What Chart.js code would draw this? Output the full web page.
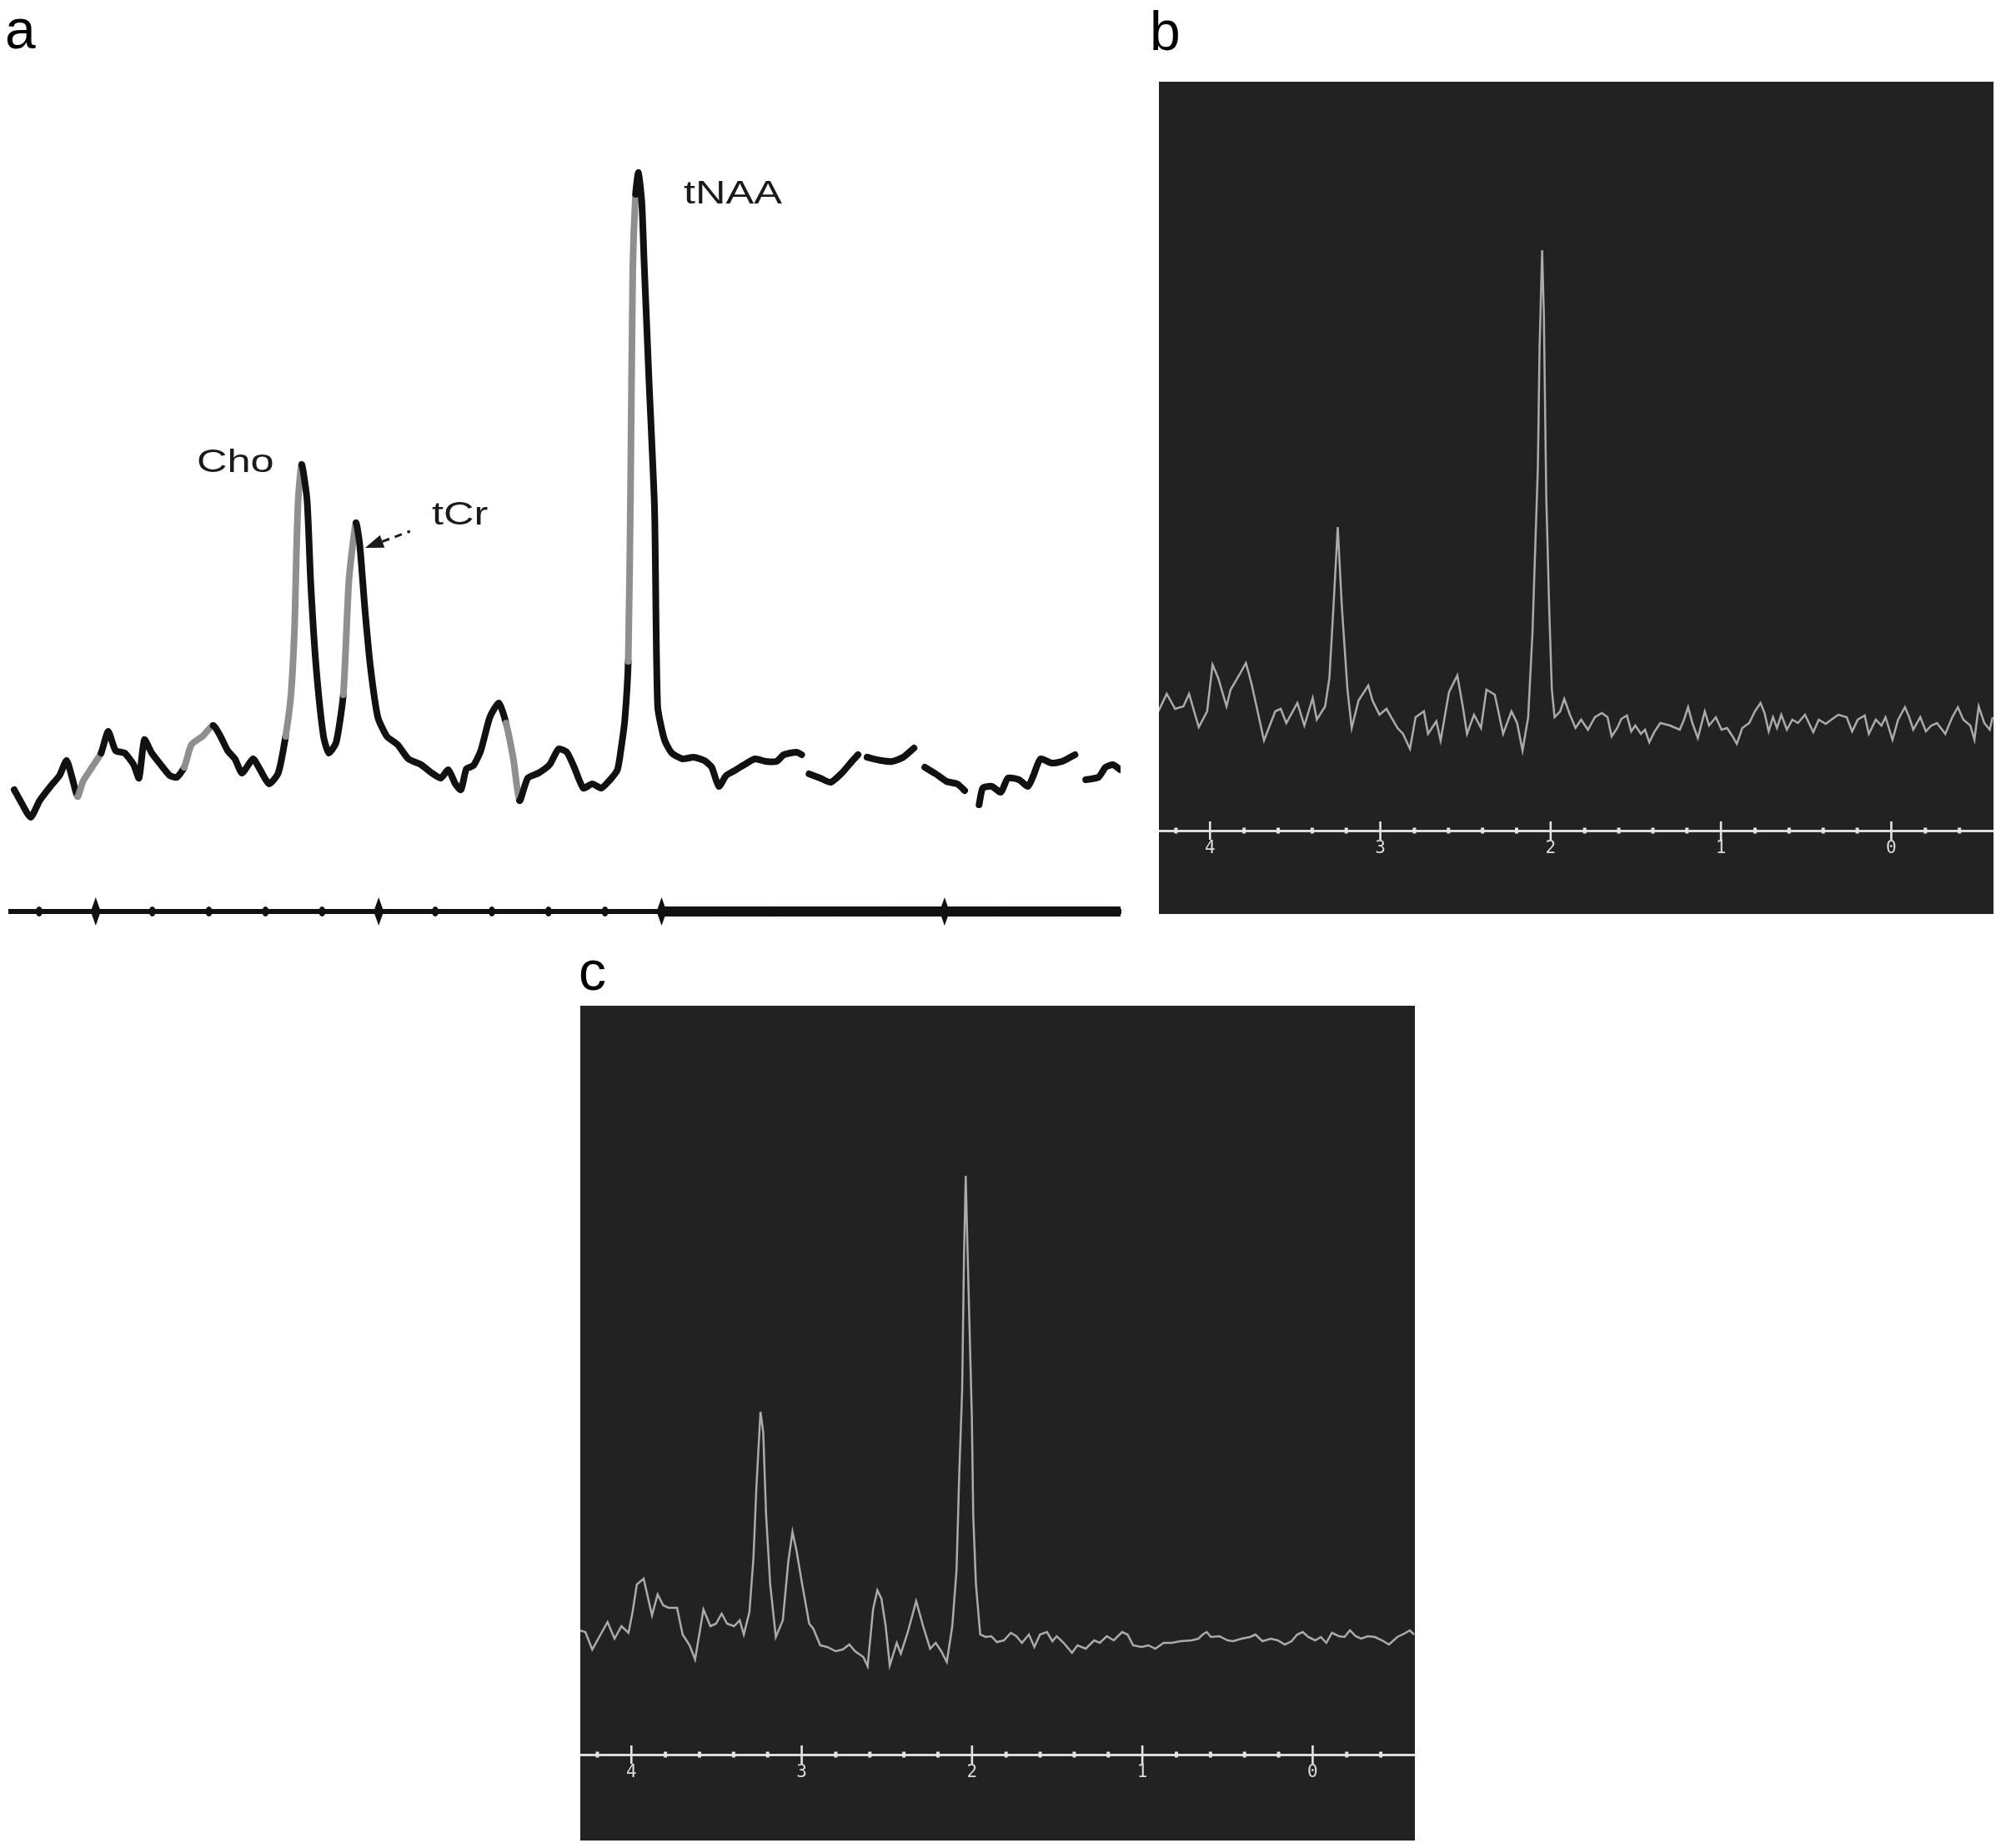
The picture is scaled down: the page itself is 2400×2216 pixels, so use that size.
<!DOCTYPE html>
<html>
<head>
<meta charset="utf-8">
<script src="https://cdn.jsdelivr.net/npm/chart.js@4.4.1/dist/chart.umd.min.js"></script>
<style>
  body { margin: 0; background: #fff; width: 2400px; height: 2216px; position: relative; overflow: hidden; }
  .tag { position: absolute; font-family: "Liberation Sans", Arial, sans-serif; font-size: 66px; line-height: 1; color: #000; }
  canvas { position: absolute; }
  #chartB, #chartC { background: #222; }
</style>
</head>
<body>
<div class="tag" style="left:6px;top:2px">a</div>
<div class="tag" style="left:1379px;top:4px">b</div>
<div class="tag" style="left:694px;top:1131px">c</div>

<canvas id="chartA" width="1360" height="1130" style="left:0;top:0"></canvas>
<canvas id="chartB" width="1001" height="998" style="left:1390px;top:98px"></canvas>
<canvas id="chartC" width="1001" height="1001" style="left:696px;top:1206px"></canvas>

<script>
// ---- data (ppm on x, signal height on y) ----
const ppmTicks = [4, 3, 2, 1, 0];
const ppmTicksA = [4, 3, 2, 1];

// panel a
const ppmA = [4.288, 4.262, 4.230, 4.198, 4.160, 4.128, 4.103, 4.083, 4.064, 4.045, 4.013, 3.981, 3.956, 3.930, 3.898,
  3.866, 3.847, 3.828, 3.802, 3.770, 3.738, 3.713, 3.687, 3.662, 3.623, 3.585, 3.559, 3.534, 3.508, 3.483, 3.444,
  3.419, 3.387, 3.355, 3.329, 3.310, 3.297, 3.291, 3.284, 3.272, 3.253, 3.240, 3.221, 3.195, 3.176, 3.150, 3.125,
  3.106, 3.093, 3.080, 3.067, 3.048, 3.029, 3.003, 2.971, 2.933, 2.895, 2.850, 2.812, 2.780, 2.754, 2.729, 2.709,
  2.690, 2.665, 2.639, 2.607, 2.575, 2.550, 2.524, 2.502, 2.473, 2.435, 2.396, 2.364, 2.335, 2.309, 2.277, 2.245,
  2.213, 2.182, 2.156, 2.143, 2.130, 2.118, 2.110, 2.102, 2.092, 2.082, 2.070, 2.062, 2.045, 2.025, 2.014, 1.990,
  1.964, 1.926, 1.887, 1.849, 1.823, 1.798, 1.772, 1.747, 1.708, 1.670, 1.632, 1.594, 1.568, 1.523, 1.505, 1.492,
  1.479, 1.440, 1.402, 1.363, 1.325, 1.306, 1.290, 1.274, 1.223, 1.185, 1.146, 1.108, 1.090, 1.070, 1.031, 0.993, 0.955,
  0.929, 0.905, 0.878, 0.865, 0.833, 0.801, 0.776, 0.737, 0.705, 0.686, 0.661, 0.622, 0.584, 0.539, 0.520, 0.501,
  0.456, 0.431, 0.405, 0.379];
const sigA = [146, 130, 113, 133, 150, 163, 181, 160, 138, 156, 173, 190, 216, 193, 190,
  176, 160, 206, 190, 176, 163, 161, 173, 200, 210, 223, 210, 193, 183, 166, 183,
  170, 153, 166, 210, 260, 343, 426, 496, 536, 493, 393, 293, 210, 190, 203, 260,
  393, 436, 466, 440, 360, 293, 233, 210, 200, 183, 176, 166, 160, 170, 153, 146,
  171, 175, 193, 233, 250, 226, 183, 133, 160, 166, 176, 195, 191, 173, 148, 153,
  148, 158, 170, 196, 230, 300, 500, 770, 860, 886, 850, 780, 640, 483, 246, 206,
  190, 183, 185, 181, 173, 150, 163, 168, 176, 183, 180, 180, 188, 191, 188, null,
  165, 160, 155, 166, 181, 188, null, 185, 181, 180, 185, 196, null, 173, 165, 156, 153,
  145, null, 128, 148, 150, 143, 160, 158, 150, 163, 183, 178, 180, 188, null, 158,
  161, 173, 176, 170];

// panel b
const ppmB = [4.303, 4.254, 4.205, 4.156, 4.123, 4.066, 4.017, 3.985, 3.952, 3.903, 3.879, 3.830, 3.789, 3.756, 3.683,
  3.617, 3.585, 3.552, 3.487, 3.446, 3.397, 3.373, 3.324, 3.299, 3.275, 3.250, 3.226, 3.193, 3.168, 3.128, 3.071,
  3.046, 3.005, 2.964, 2.899, 2.867, 2.826, 2.793, 2.744, 2.720, 2.671, 2.646, 2.597, 2.548, 2.516, 2.491, 2.450,
  2.409, 2.377, 2.328, 2.279, 2.230, 2.197, 2.165, 2.132, 2.107, 2.091, 2.075, 2.065, 2.050, 2.040, 2.026, 2.009,
  1.993, 1.977, 1.944, 1.920, 1.887, 1.854, 1.821, 1.781, 1.740, 1.699, 1.666, 1.642, 1.609, 1.585, 1.552, 1.527,
  1.503, 1.470, 1.446, 1.421, 1.389, 1.356, 1.299, 1.242, 1.217, 1.193, 1.168, 1.136, 1.095, 1.070, 1.030, 0.997,
  0.964, 0.932, 0.907, 0.875, 0.834, 0.801, 0.768, 0.744, 0.720, 0.695, 0.671, 0.646, 0.613, 0.581, 0.548, 0.507,
  0.458, 0.426, 0.385, 0.352, 0.311, 0.262, 0.230, 0.197, 0.156, 0.132, 0.091, 0.058, 0.034, -0.007, -0.040, -0.080,
  -0.105, -0.129, -0.170, -0.203, -0.235, -0.268, -0.317, -0.358, -0.391, -0.423, -0.464, -0.488, -0.513, -0.546,
  -0.578, -0.595];
const sigB = [143, 164, 146, 149, 164, 124, 143, 199, 183, 149, 169, 186, 201, 176, 108,
  143, 146, 129, 153, 126, 159, 133, 149, 183, 269, 364, 269, 169, 123, 156, 174,
  156, 139, 146, 123, 116, 98, 136, 143, 116, 131, 108, 166, 186, 149, 116, 139,
  123, 169, 163, 116, 143, 129, 96, 136, 236, 336, 436, 580, 696, 620, 403, 269,
  169, 136, 143, 158, 139, 123, 133, 121, 136, 141, 136, 113, 123, 134, 138, 119,
  126, 116, 121, 106, 119, 129, 126, 121, 133, 148, 129, 111, 143, 126, 136, 121,
  123, 113, 104, 123, 129, 143, 153, 141, 119, 136, 123, 139, 121, 133, 129, 139,
  118, 133, 128, 133, 139, 136, 119, 133, 138, 116, 133, 126, 136, 109, 133, 148,
  136, 121, 136, 119, 126, 129, 116, 136, 148, 133, 126, 109, 149, 129,
  121, 136];

// panel c
const ppmC = [4.303, 4.270, 4.230, 4.189, 4.140, 4.099, 4.058, 4.017, 3.993, 3.968, 3.928, 3.879, 3.846, 3.813, 3.781,
  3.732, 3.699, 3.658, 3.626, 3.577, 3.536, 3.503, 3.470, 3.438, 3.397, 3.364, 3.340, 3.307, 3.283, 3.266, 3.242,
  3.226, 3.209, 3.185, 3.152, 3.111, 3.079, 3.054, 3.030, 2.997, 2.956, 2.932, 2.891, 2.850, 2.801, 2.760, 2.720,
  2.687, 2.638, 2.613, 2.581, 2.556, 2.532, 2.507, 2.483, 2.442, 2.418, 2.377, 2.328, 2.287, 2.246, 2.213, 2.181,
  2.148, 2.116, 2.091, 2.075, 2.058, 2.047, 2.037, 2.027, 2.001, 1.993, 1.977, 1.952, 1.920, 1.887, 1.854, 1.813,
  1.772, 1.740, 1.707, 1.666, 1.634, 1.601, 1.560, 1.528, 1.503, 1.462, 1.413, 1.381, 1.332, 1.283, 1.250, 1.209,
  1.168, 1.119, 1.087, 1.054, 1.005, 0.964, 0.924, 0.875, 0.826, 0.777, 0.711, 0.671, 0.646, 0.622, 0.597, 0.548,
  0.499, 0.467, 0.418, 0.368, 0.336, 0.295, 0.246, 0.205, 0.164, 0.124, 0.091, 0.058, 0.026, -0.015, -0.048,
  -0.080, -0.113, -0.154, -0.187, -0.219, -0.252, -0.284, -0.325, -0.366, -0.407, -0.448, -0.497, -0.546, -0.570,
  -0.595];
const sigC = [149, 147, 126, 141, 159, 139, 154, 146, 171, 204, 211, 167, 192, 179, 176,
  176, 144, 131, 114, 174, 154, 157, 169, 157, 154, 161, 144, 171, 237, 321, 411,
  387, 287, 204, 141, 161, 231, 267, 244, 204, 157, 151, 131, 129, 124, 126, 132,
  124, 117, 106, 174, 197, 187, 154, 107, 134, 121, 147, 184, 154, 127, 134, 124,
  111, 154, 221, 337, 437, 600, 694, 610, 404, 287, 204, 144, 141, 142, 135, 137,
  146, 142, 134, 144, 129, 144, 147, 136, 142, 134, 122, 131, 127, 137, 134, 142,
  137, 147, 144, 131, 129, 131, 127, 134, 134, 136, 137, 139, 144, 147, 141, 142,
  137, 136, 139, 141, 144, 136, 139, 137, 132, 136, 144, 147, 141, 137, 141,
  134, 146, 142, 141, 149, 142, 139, 142, 141, 137, 132, 141, 146, 149,
  144];

// ---- styles kept out of the data ----
const grayRangesA = [[3.335, 3.283], [3.135, 3.088], [2.121, 2.101], [4.07, 4.0], [3.70, 3.60], [2.56, 2.505]];
const peakLabelsA = [
  { text: 'Cho', x: 3.643, y: 527 },
  { text: 'tCr', x: 2.812, y: 464 },
  { text: 'tNAA', x: 1.922, y: 849 }
];

Chart.defaults.font.family = '"Liberation Sans", Arial, sans-serif';

// tick marks crossing the dark-panel axis: long at whole ppm, dots every 0.2 ppm
const darkAxisMarks = {
  id: 'darkAxisMarks',
  afterDatasetsDraw(chart) {
    const { ctx, scales: { x, y } } = chart;
    const y0 = y.getPixelForValue(0);
    ctx.save();
    ctx.fillStyle = '#e4e4e4';
    for (let k = -2; k <= 21; k++) {
      const px = x.getPixelForValue(k * 0.2);
      if (k % 5 === 0) ctx.fillRect(px - 1.3, y0 - 11, 2.6, 22);
      else ctx.fillRect(px - 2, y0 - 3.5, 4, 7);
    }
    ctx.restore();
  }
};

// panel a: diamond ticks, heavier right part of axis, peak names and arrow
const paperAxisMarks = {
  id: 'paperAxisMarks',
  afterDatasetsDraw(chart) {
    const { ctx, scales: { x, y } } = chart;
    const y0 = y.getPixelForValue(0);
    ctx.save();
    ctx.fillStyle = '#111';
    ctx.fillRect(x.getPixelForValue(2), y0 - 6, x.right - x.getPixelForValue(2), 12);
    for (let k = 2; k <= 21; k++) {
      const px = x.getPixelForValue(k * 0.2);
      if (k % 5 === 0) {
        ctx.beginPath();
        ctx.moveTo(px, y0 - 17); ctx.lineTo(px + 6, y0); ctx.lineTo(px, y0 + 17); ctx.lineTo(px - 6, y0);
        ctx.closePath(); ctx.fill();
      } else {
        ctx.beginPath();
        ctx.ellipse(px, y0, 4, 6, 0, 0, Math.PI * 2);
        ctx.fill();
      }
    }
    // labels
    ctx.fillStyle = '#1a1a1a';
    ctx.font = '38px "Liberation Sans", Arial, sans-serif';
    ctx.textBaseline = 'alphabetic';
    peakLabelsA.forEach(l => {
      ctx.save();
      ctx.translate(x.getPixelForValue(l.x), y.getPixelForValue(l.y));
      ctx.scale(1.33, 1);
      ctx.fillText(l.text, 0, 0);
      ctx.restore();
    });
    // arrow to tCr
    const hx = x.getPixelForValue(3.048), hy = y.getPixelForValue(436);
    const tx = x.getPixelForValue(2.889), ty = y.getPixelForValue(456);
    const len = Math.hypot(tx - hx, ty - hy), ux = (tx - hx) / len, uy = (ty - hy) / len;
    ctx.beginPath();
    ctx.moveTo(hx, hy);
    ctx.lineTo(hx + ux * 22 - uy * 8, hy + uy * 22 + ux * 8);
    ctx.lineTo(hx + ux * 22 + uy * 8, hy + uy * 22 - ux * 8);
    ctx.closePath(); ctx.fill();
    ctx.strokeStyle = '#1a1a1a';
    ctx.lineWidth = 3;
    ctx.setLineDash([9, 7]);
    ctx.beginPath();
    ctx.moveTo(hx + ux * 22, hy + uy * 22);
    ctx.lineTo(tx, ty);
    ctx.stroke();
    ctx.restore();
  }
};

const baseOptions = (min, max, yMin, yMax) => ({
  responsive: false,
  animation: false,
  devicePixelRatio: 1,
  layout: { padding: 0 },
  plugins: { legend: { display: false }, tooltip: { enabled: false } },
  scales: {
    x: { type: 'linear', reverse: true, min: min, max: max, position: { y: 0 } },
    y: { display: false, min: yMin, max: yMax }
  }
});

// ---- panel a (scanned black trace) ----
const optA = baseOptions(0.378, 4.30, -37, 1093);
optA.layout.padding = { left: 13, right: 16, top: 0, bottom: 0 };
optA.scales.x.afterBuildTicks = s => { s.ticks = ppmTicksA.map(v => ({ value: v })); };
optA.scales.x.grid = { display: false, drawTicks: false };
optA.scales.x.border = { display: true, color: '#111', width: 6 };
optA.scales.x.ticks = { display: false };

new Chart(document.getElementById('chartA'), {
  type: 'line',
  data: {
    datasets: [{
      data: ppmA.map((x, i) => ({ x: x, y: sigA[i] })),
      borderColor: '#111',
      borderWidth: 8,
      borderJoinStyle: 'round',
      borderCapStyle: 'round',
      pointRadius: 0,
      tension: 0.2,
      spanGaps: false,
      segment: {
        borderColor: c => grayRangesA.some(r => c.p0.parsed.x <= r[0] && c.p0.parsed.x > r[1]) ? '#8f8f8f' : '#111'
      }
    }]
  },
  options: optA,
  plugins: [paperAxisMarks]
});

// ---- panels b and c (scanner display) ----
function darkSpectrum(id, ppm, sig, yMin) {
  const opt = baseOptions(-0.6, 4.3, yMin, 898);
  opt.scales.x.afterBuildTicks = s => { s.ticks = ppmTicks.map(v => ({ value: v })); };
  opt.scales.x.grid = { display: false, drawTicks: false };
  opt.scales.x.border = { display: true, color: '#dcdcdc', width: 3 };
  opt.scales.x.ticks = {
    color: '#dadada',
    padding: 9,
    autoSkip: false,
    maxRotation: 0,
    font: { family: '"DejaVu Sans Mono", monospace', size: 21 },
    callback: v => String(v)
  };
  return new Chart(document.getElementById(id), {
    type: 'line',
    data: {
      datasets: [{
        data: ppm.map((x, i) => ({ x: x, y: sig[i] })),
        borderColor: '#ababab',
        borderWidth: 2.5,
        pointRadius: 0,
        tension: 0
      }]
    },
    options: opt,
    plugins: [darkAxisMarks]
  });
}

darkSpectrum('chartB', ppmB, sigB, -100);
darkSpectrum('chartC', ppmC, sigC, -103);
</script>
</body>
</html>
